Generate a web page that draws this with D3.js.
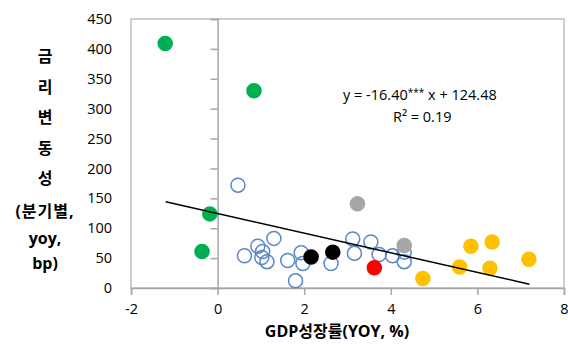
<!DOCTYPE html>
<html>
<head>
<meta charset="utf-8">
<script src="https://cdn.jsdelivr.net/npm/d3@7"></script>
<style>
  html, body { margin: 0; padding: 0; background: #fff; }
  svg { display: block; font-family: "Open Sans", "Noto Sans CJK KR", sans-serif; }
</style>
</head>
<body>
<svg id="chart" width="568" height="344"></svg>
<script>
// GDP growth (x, %) vs. quarterly rate change (y, bp), grouped by marker style
const openPoints = [
  [0.47, 172], [1.30, 83], [0.93, 70], [0.62, 54], [1.04, 61], [1.02, 51],
  [1.14, 44], [1.62, 46], [1.93, 59], [1.97, 41], [1.80, 12], [2.62, 41],
  [3.12, 82], [3.16, 58], [3.54, 77], [3.73, 56], [4.04, 54], [4.31, 60], [4.31, 44]
];
const greenPoints = [[-1.21, 409], [0.84, 330], [-0.18, 124], [-0.36, 61]];
const grayPoints = [[3.23, 141], [4.31, 71]];
const blackPoints = [[2.16, 52], [2.66, 60]];
const redPoints = [[3.62, 34]];
const yellowPoints = [[4.74, 16], [5.59, 35], [5.85, 70], [6.34, 77], [6.29, 33], [7.19, 48]];

// Linear trend: y = slope * x + intercept
const trendSlope = -16.40;
const trendIntercept = 124.48;
const trendRange = [-1.2, 7.2];

const xTicks = [-2, 0, 2, 4, 6, 8];
const yTicks = [0, 50, 100, 150, 200, 250, 300, 350, 400, 450];
const yTitleLines = ["금", "리", "변", "동", "성", "(분기별,", "yoy,", "bp)"];
const xTitle = "GDP성장률(YOY, %)";

const svg = d3.select("#chart");
const x = d3.scaleLinear().domain([-2, 8]).range([131, 564]);
const y = d3.scaleLinear().domain([0, 450]).range([288, 19]);

const gridGray = "#bfbfbf";
const axisGray = "#a6a6a6";

// plot-area frame
svg.append("rect")
  .attr("x", x(-2)).attr("y", y(450))
  .attr("width", x(8) - x(-2)).attr("height", y(0) - y(450))
  .attr("fill", "none").attr("stroke", gridGray).attr("stroke-width", 1.5);

// x axis along y = 0, ticks pointing down
const xAxis = svg.append("g").attr("transform", `translate(0,${y(0)})`)
  .call(d3.axisBottom(x).tickValues(xTicks).tickSize(7).tickPadding(9)
    .tickFormat(d => String(d)));
xAxis.select(".domain").attr("stroke", axisGray).attr("stroke-width", 1.5);
xAxis.selectAll(".tick line").attr("stroke", axisGray).attr("stroke-width", 1.5);
xAxis.selectAll(".tick text").attr("font-size", 14.5).attr("fill", "#000")
  .attr("font-family", "'Open Sans', sans-serif");

// y axis along x = 0, ticks pointing left, labels sitting outside the frame
const yAxis = svg.append("g").attr("transform", `translate(${x(0)},0)`)
  .call(d3.axisLeft(y).tickValues(yTicks).tickSize(7).tickFormat(""));
yAxis.select(".domain").attr("stroke", axisGray).attr("stroke-width", 1.5);
yAxis.selectAll(".tick line").attr("stroke", axisGray).attr("stroke-width", 1.5);

svg.append("g").selectAll("text").data(yTicks).join("text")
  .attr("x", 112).attr("y", d => y(d)).attr("dy", "0.35em")
  .attr("text-anchor", "end").attr("font-size", 14.5).attr("fill", "#000")
  .text(d => d);

// series markers
const r = 7;
svg.append("g").selectAll("circle").data(openPoints).join("circle")
  .attr("cx", d => x(d[0])).attr("cy", d => y(d[1])).attr("r", r)
  .attr("fill", "none").attr("stroke", "#5a87c8").attr("stroke-width", 1.5);

const filledSeries = [
  [greenPoints, "#00b050"],
  [grayPoints, "#a6a6a6"],
  [blackPoints, "#000000"],
  [redPoints, "#ff0000"],
  [yellowPoints, "#ffc000"]
];
filledSeries.forEach(([pts, color]) => {
  svg.append("g").selectAll("circle").data(pts).join("circle")
    .attr("cx", d => x(d[0])).attr("cy", d => y(d[1])).attr("r", r)
    .attr("fill", color).attr("stroke", color).attr("stroke-width", 1.5);
});

// trend line
const line = d3.line().x(d => x(d)).y(d => y(trendSlope * d + trendIntercept));
svg.append("path").datum(trendRange).attr("d", line)
  .attr("fill", "none").attr("stroke", "#000").attr("stroke-width", 1.5);

// trend equation
const eq = svg.append("text").attr("x", 343).attr("y", 100)
  .attr("font-size", 14.5).attr("fill", "#000");
eq.append("tspan").text(`y = ${trendSlope.toFixed(2)}`);
eq.append("tspan").attr("font-size", 10).attr("dy", -4).text("***");
eq.append("tspan").attr("dy", 4).text(` x + ${trendIntercept.toFixed(2)}`);
svg.append("text").attr("x", 393).attr("y", 122)
  .attr("font-size", 14.5).attr("fill", "#000").text("R² = 0.19");

// axis titles
const yTitleY = [56, 87, 117, 148, 178, 211, 238, 263];
svg.append("g").selectAll("text").data(yTitleLines).join("text")
  .attr("x", 45).attr("y", (d, i) => yTitleY[i]).attr("dy", "0.35em")
  .attr("text-anchor", "middle").attr("font-size", 16).attr("font-weight", "bold")
  .attr("letter-spacing", (d, i) => i === 5 ? 1 : 0)
  .attr("fill", "#000").text(d => d);

svg.append("text").attr("x", 337).attr("y", 331).attr("dy", "0.35em")
  .attr("text-anchor", "middle").attr("font-size", 16).attr("font-weight", "bold")
  .attr("fill", "#000").text(xTitle);
</script>
</body>
</html>
